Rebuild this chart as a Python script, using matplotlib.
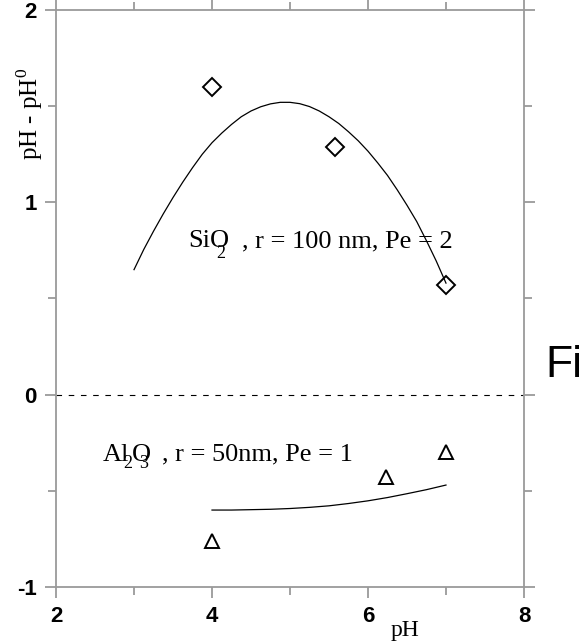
import numpy as np
import matplotlib
matplotlib.use("Agg")
import matplotlib.pyplot as plt
from matplotlib.ticker import MultipleLocator

# SiO2, r = 100 nm, Pe = 2
sio2_ph = [4.0, 5.58, 7.0]
sio2_shift = [1.60, 1.29, 0.57]
sio2_fit_ph = [3.0, 3.125, 3.25, 3.375, 3.5, 3.625, 3.75, 3.875, 4.0,
               4.125, 4.25, 4.375, 4.5, 4.625, 4.75, 4.875, 5.0,
               5.125, 5.25, 5.375, 5.5, 5.625, 5.75, 5.875, 6.0,
               6.125, 6.25, 6.375, 6.5, 6.625, 6.75, 6.875, 7.0]
sio2_fit = [0.65, 0.755, 0.85, 0.94, 1.025, 1.105, 1.18, 1.25, 1.31,
            1.36, 1.405, 1.445, 1.475, 1.497, 1.512, 1.52, 1.52,
            1.513, 1.498, 1.475, 1.445, 1.41, 1.367, 1.32, 1.266,
            1.205, 1.14, 1.065, 0.985, 0.9, 0.80, 0.695, 0.58]

# Al2O3, r = 50 nm, Pe = 1
al_ph = [4.0, 6.23, 7.0]
al_shift = [-0.76, -0.43, -0.30]
al_fit_ph = [4.0, 4.25, 4.5, 4.75, 5.0, 5.25, 5.5, 5.75, 6.0, 6.25, 6.5, 6.75, 7.0]
al_fit = [-0.600, -0.600, -0.598, -0.596, -0.592, -0.586, -0.578,
          -0.566, -0.552, -0.535, -0.515, -0.494, -0.47]

serif = "Liberation Serif"
gray = "#9a9a9a"
plt.rcParams["mathtext.fontset"] = "custom"
plt.rcParams["mathtext.rm"] = serif
plt.rcParams["axes.unicode_minus"] = False

fig = plt.figure(figsize=(5.8, 6.42), dpi=100)
ax = fig.add_axes([0.0966, 0.0857, 0.8068, 0.8987])

ax.plot(sio2_fit_ph, sio2_fit, "-", color="black", lw=0.9)
ax.plot(sio2_ph, sio2_shift, "D", mfc="none", mec="black", mew=1.4, ms=9)
ax.plot(al_fit_ph, al_fit, "-", color="black", lw=0.9)
ax.plot(al_ph, al_shift, "^", mfc="none", mec="black", mew=1.4, ms=10)
ax.axhline(0, color="black", lw=0.8, ls=(0, (5, 6)))

# labels (subscripts placed by hand like the original)
ts = 19
ss = 13
ax.text(3.69, 0.766, "SiO", family=serif, fontsize=ts, va="baseline")
ax.text(4.06, 0.712, "2", family=serif, fontsize=ss, va="baseline")
ax.text(4.38, 0.766, ", r = 100 nm, Pe = 2", family=serif, fontsize=ts, va="baseline")
ax.text(2.60, -0.344, "Al", family=serif, fontsize=ts, va="baseline")
ax.text(2.86, -0.38, "2", family=serif, fontsize=ss, va="baseline")
ax.text(2.97, -0.344, "O", family=serif, fontsize=ts, va="baseline")
ax.text(3.06, -0.38, "3", family=serif, fontsize=ss, va="baseline")
ax.text(3.36, -0.344, ", r = 50nm, Pe = 1", family=serif, fontsize=ts, va="baseline")

ax.set_xlim(2, 8)
ax.set_ylim(-1, 2)
ax.xaxis.set_major_locator(MultipleLocator(2))
ax.xaxis.set_minor_locator(MultipleLocator(1))
ax.yaxis.set_major_locator(MultipleLocator(1))
ax.yaxis.set_minor_locator(MultipleLocator(0.5))
ax.tick_params(which="both", direction="out", top=True, right=True,
               color=gray, width=1.3)
ax.tick_params(which="major", length=8, pad=6)
ax.tick_params(which="minor", length=6)
ax.tick_params(labeltop=False, labelright=False)
for lab in ax.get_xticklabels() + ax.get_yticklabels():
    lab.set_family("Liberation Sans")
    lab.set_fontweight("bold")
    lab.set_fontsize(16)
for s in ax.spines.values():
    s.set_color(gray)
    s.set_linewidth(1.3)

ax.set_xlabel("pH", family=serif, fontsize=17)
ax.xaxis.set_label_coords(0.745, -0.058)
ax.set_ylabel("pH - pH$^0$", family=serif, fontsize=18)
ax.yaxis.set_label_coords(-0.024, 0.82)

fig.text(545 / 580, 0.413, "Fi", family="Liberation Sans", fontsize=32)

fig.savefig("out.png", dpi=100)
